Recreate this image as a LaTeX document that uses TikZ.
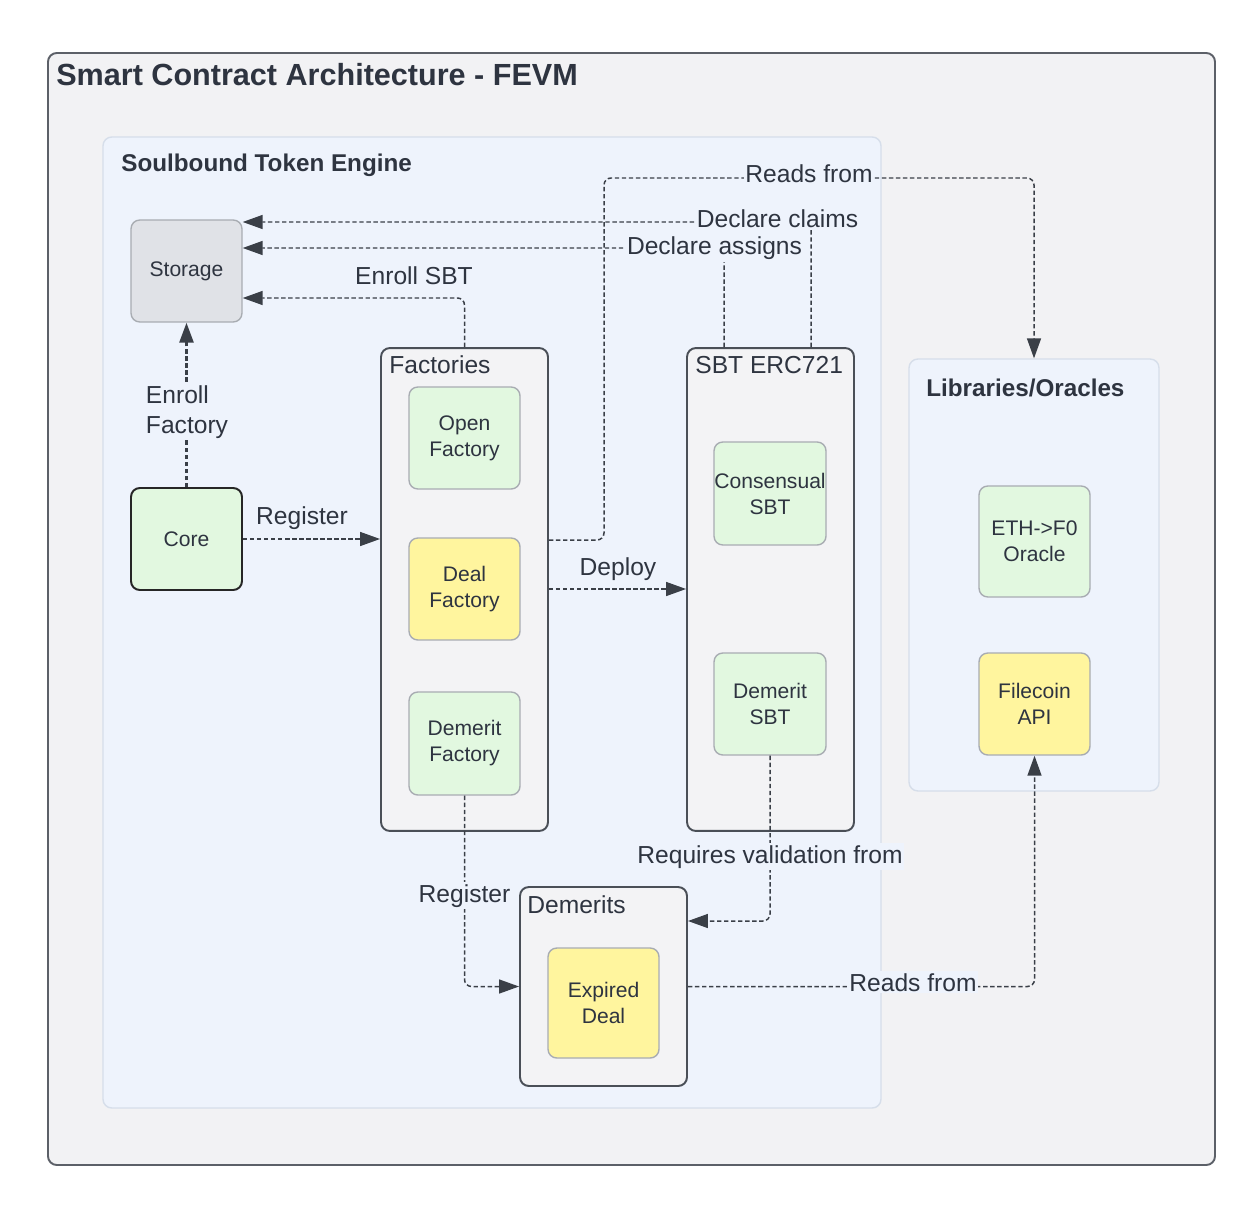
\documentclass[tikz,border=0pt]{standalone}
\usepackage{fontspec}
\setmainfont{Liberation Sans}
\usetikzlibrary{arrows.meta}
\definecolor{ink}{HTML}{2E3440}
\definecolor{wire}{HTML}{3A3F47}
\definecolor{outerbg}{HTML}{F2F2F4}
\definecolor{outerline}{HTML}{5C6068}
\definecolor{panelbg}{HTML}{EEF3FC}
\definecolor{panelline}{HTML}{D6DEEA}
\definecolor{contbg}{HTML}{F3F3F5}
\definecolor{contline}{HTML}{4A4F57}
\definecolor{okfill}{HTML}{E2F8E0}
\definecolor{dealfill}{HTML}{FFF59E}
\definecolor{storefill}{HTML}{E0E2E7}
\definecolor{boxline}{HTML}{A8ACB2}
\newcommand\boxfont{\fontsize{12}{14.8}\selectfont}
\newcommand\lblfont{\fontsize{14}{17}\selectfont}
\tikzset{
  panel/.style={draw=panelline,fill=panelbg,rounded corners=5pt,line width=0.8pt},
  cont/.style={draw=contline,fill=contbg,rounded corners=5pt,line width=1.1pt,inner sep=0pt},
  box/.style={draw=boxline,rounded corners=5pt,line width=0.8pt,minimum width=2.22cm,
    minimum height=2.04cm,align=center,font=\boxfont,text=ink,inner sep=0pt},
  okbox/.style={box,fill=okfill},
  dealbox/.style={box,fill=dealfill},
  conn/.style={draw=wire,line width=0.85pt,dash pattern=on 2.5pt off 1.5pt,rounded corners=4pt,
    -{Triangle[length=0.4cm,width=0.28cm]}},
  lbl/.style={font=\lblfont,text=ink,fill=panelbg,inner sep=1pt,anchor=base},
  head/.style={font=\lblfont,text=ink,anchor=base west,inner sep=0pt},
  ttl/.style={font=\bfseries\fontsize{13.8}{16}\selectfont,text=ink,anchor=base west,inner sep=0pt}
}
\begin{document}
\begin{tikzpicture}[x=0.02cm,y=-0.02cm]
  \fill[white] (0,0) rectangle (1260,1206);
  \useasboundingbox (0,0) rectangle (1260,1206);
  \draw[draw=outerline,fill=outerbg,rounded corners=5pt,line width=1.1pt] (48,53) rectangle (1215,1165);
  \node[anchor=base west,inner sep=0pt,text=ink,font=\bfseries\fontsize{17.4}{20}\selectfont] (title) at (56,86) {Smart Contract Architecture - FEVM};
  \draw[panel] (103,137) rectangle (881,1108);
  \node[ttl] (engine) at (121,172) {Soulbound Token Engine};
  \node[panel,minimum width=5cm,minimum height=8.64cm] (lib) at (1034,575) {};
  \node[ttl] (libtitle) at (926,396) {Libraries/Oracles};

  \node[box,fill=storefill] (storage) at (186.5,271) {Storage};
  \node[okbox,draw=black!85,line width=1.1pt] (core) at (186.5,539) {Core};

  \node[cont,minimum width=3.34cm,minimum height=9.66cm] (fac) at (464.5,589.5) {};
  \node[head] (factitle) at (389,373) {Factories};
  \node[okbox] (open) at (464.5,438) {Open\\Factory};
  \node[dealbox] (deal) at (464.5,589) {Deal\\Factory};
  \node[okbox,minimum height=2.06cm] (dfac) at (464.5,743.5) {Demerit\\Factory};

  \node[cont,minimum width=3.34cm,minimum height=9.66cm] (sbt) at (770.5,589.5) {};
  \node[head] (sbttitle) at (695,373) {SBT ERC721};
  \node[okbox,minimum width=2.24cm,minimum height=2.06cm] (cons) at (770,493.5) {Consensual\\SBT};
  \node[okbox,minimum width=2.24cm] (dsbt) at (770,704) {Demerit\\SBT};

  \node[cont,minimum width=3.34cm,minimum height=3.98cm] (dem) at (603.5,986.5) {};
  \node[head] (demtitle) at (527,913) {Demerits};
  \node[dealbox,minimum height=2.2cm] (expired) at (603.5,1003) {Expired\\Deal};

  \node[okbox,minimum height=2.22cm] (oracle) at (1034.5,541.5) {ETH->F0\\Oracle};
  \node[dealbox] (api) at (1034.5,704) {Filecoin\\API};

  \draw[conn,line width=1.6pt] (core.north) -- (storage.south);
  \draw[conn] (core.east) -- (core.east -| fac.west);
  \draw[conn] (fac.north) |- (storage.east |- 0,298);
  \draw[conn] (sbt.north -| 724,0) |- (storage.east |- 0,248);
  \draw[conn] (sbt.north -| 811,0) |- (storage.east |- 0,222);
  \draw[conn] (fac.east |- 0,540) -| (604,178) -| (lib.north);
  \draw[conn] (fac.east |- 0,589) -- (sbt.west |- 0,589);
  \draw[conn] (dfac.south) |- (dem.west);
  \draw[conn] (dsbt.south) |- (dem.east |- 0,921);
  \draw[conn] (dem.east) -| (api.south);

  \node[lbl,anchor=center,align=left] (lenrollf) at (187,412) {Enroll\\Factory};
  \node[lbl] (lreg) at (302,524) {Register};
  \node[lbl] (lenrolls) at (414,284) {Enroll SBT};
  \node[lbl] (lassigns) at (714.5,255) {Declare assigns};
  \node[lbl] (lclaims) at (777.5,228) {Declare claims};
  \node[lbl] (lreads) at (809,183) {Reads from};
  \node[lbl] (ldeploy) at (618,575) {Deploy};
  \node[lbl] (lregdem) at (464.5,902) {Register};
  \node[lbl] (lreq) at (770,863) {Requires validation from};
  \node[lbl] (lreadsapi) at (913,991) {Reads from};
\end{tikzpicture}
\end{document}
